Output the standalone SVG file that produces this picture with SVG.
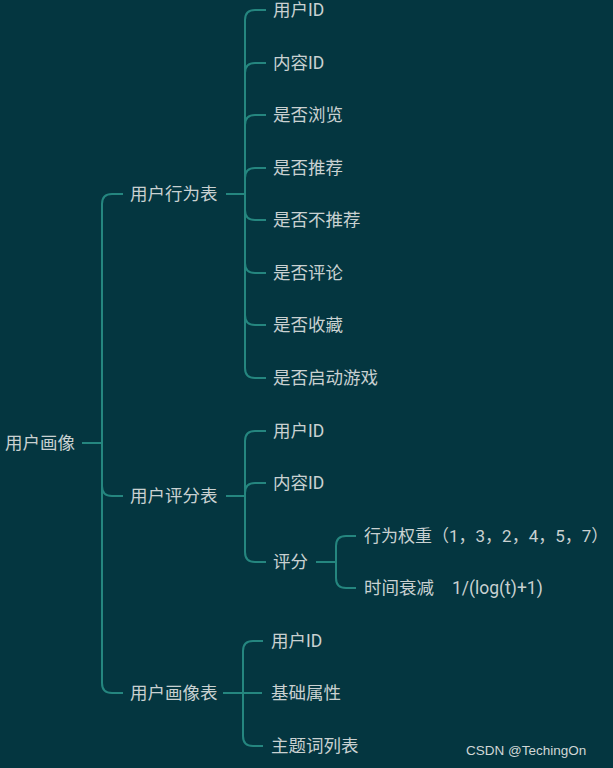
<svg xmlns="http://www.w3.org/2000/svg" width="613" height="768" viewBox="0 0 613 768">
<style>
.t{font-family:Roboto,"Noto Sans CJK SC",sans-serif;font-size:17.5px;fill:#c9d1d1;dominant-baseline:central}
.c{fill:none;stroke:#25867f;stroke-width:2}
.w{font-family:"Liberation Sans",Arial,sans-serif;font-size:13.5px;fill:#d0d6d6}
</style>
<rect width="613" height="768" fill="#043640"/>
<g id="connectors">
<path class="c" d="M82,443 H102"/>
<path class="c" d="M102,443 V204 Q102,194 112,194 H123"/>
<path class="c" d="M102,443 V486 Q102,496 112,496 H123"/>
<path class="c" d="M102,443 V683 Q102,693 112,693 H123"/>
<path class="c" d="M226,194 H245" stroke-width="3"/>
<path class="c" d="M245,194 V20 Q245,10 255,10 H266"/>
<path class="c" d="M245,194 V73 Q245,63 255,63 H266"/>
<path class="c" d="M245,194 V125 Q245,115 255,115 H266"/>
<path class="c" d="M245,194 V178 Q245,168 255,168 H266"/>
<path class="c" d="M245,194 V210 Q245,220 255,220 H266"/>
<path class="c" d="M245,194 V263 Q245,273 255,273 H266"/>
<path class="c" d="M245,194 V315 Q245,325 255,325 H266"/>
<path class="c" d="M245,194 V368 Q245,378 255,378 H266"/>
<path class="c" d="M226,496 H245"/>
<path class="c" d="M245,496 V441 Q245,431 255,431 H266"/>
<path class="c" d="M245,496 V493 Q245,483 255,483 H266"/>
<path class="c" d="M245,496 V552 Q245,562 255,562 H266"/>
<path class="c" d="M316,562 H336"/>
<path class="c" d="M336,562 V546 Q336,536 346,536 H356"/>
<path class="c" d="M336,562 V578 Q336,588 346,588 H356"/>
<path class="c" d="M223,693 H262"/>
<path class="c" d="M243,693 V651 Q243,641 253,641 H263"/>
<path class="c" d="M243,693 V736 Q243,746 253,746 H263"/>
</g>
<g id="root"><text class="t" x="5" y="443">用户画像</text></g>
<g id="n-behavior"><text class="t" x="130" y="194">用户行为表</text></g>
<g id="n-b1"><text class="t" x="273" y="10">用户ID</text></g>
<g id="n-b2"><text class="t" x="273" y="63">内容ID</text></g>
<g id="n-b3"><text class="t" x="273" y="115">是否浏览</text></g>
<g id="n-b4"><text class="t" x="273" y="168">是否推荐</text></g>
<g id="n-b5"><text class="t" x="273" y="220">是否不推荐</text></g>
<g id="n-b6"><text class="t" x="273" y="273">是否评论</text></g>
<g id="n-b7"><text class="t" x="273" y="325">是否收藏</text></g>
<g id="n-b8"><text class="t" x="273" y="378">是否启动游戏</text></g>
<g id="n-score"><text class="t" x="130" y="496">用户评分表</text></g>
<g id="n-s1"><text class="t" x="273" y="431">用户ID</text></g>
<g id="n-s2"><text class="t" x="273" y="483">内容ID</text></g>
<g id="n-s3"><text class="t" x="273" y="562">评分</text></g>
<g id="n-s31"><text class="t" x="364" y="536" style="font-size:17px">行为权重（1，3，2，4，5，7）</text></g>
<g id="n-s32"><text class="t" x="364" y="588">时间衰减<tspan x="452">1/(log(t)+1)</tspan></text></g>
<g id="n-profile"><text class="t" x="130" y="693">用户画像表</text></g>
<g id="n-p1"><text class="t" x="271" y="641">用户ID</text></g>
<g id="n-p2"><text class="t" x="271" y="693">基础属性</text></g>
<g id="n-p3"><text class="t" x="271" y="746">主题词列表</text></g>
<text class="w" x="466" y="755">CSDN @TechingOn</text>
</svg>
